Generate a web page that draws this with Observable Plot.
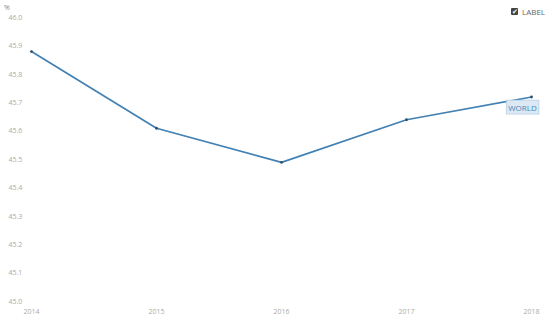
<!DOCTYPE html>
<html>
<head>
<meta charset="utf-8">
<script src="https://cdn.jsdelivr.net/npm/d3@7"></script>
<script src="https://cdn.jsdelivr.net/npm/@observablehq/plot@0.6"></script>
<style>
  html, body { margin: 0; padding: 0; background: #fff; }
  #wrap { position: relative; width: 554px; height: 325px; font-family: "Open Sans", sans-serif; }
  #chart svg { display: block; }
  #unit { position: absolute; left: 4px; top: 3px; font-size: 7px; line-height: 9px; color: #888; z-index: 2; }
  #legend { position: absolute; left: 511px; top: 7px; font-size: 8px; line-height: 9px; color: #666; display: flex; align-items: center; gap: 4px; z-index: 2; }
  #legend .box { width: 7px; height: 7px; background: #444; border-radius: 1px; color: #fff; font-size: 7px; line-height: 7px; text-align: center; }
</style>
</head>
<body>
<div id="wrap">
  <div id="chart"></div>
  <div id="unit">%</div>
  <div id="legend"><span class="box">✔</span><span>LABEL</span></div>
</div>
<script>
const years = [2014, 2015, 2016, 2017, 2018];
const values = [45.88, 45.61, 45.49, 45.64, 45.72];
const seriesName = "WORLD";
const yTicks = [45.0, 45.1, 45.2, 45.3, 45.4, 45.5, 45.6, 45.7, 45.8, 45.9, 46.0];

const data = years.map((y, i) => ({year: y, value: values[i]}));
const last = data[data.length - 1];

const plot = Plot.plot({
  width: 554,
  height: 325,
  marginLeft: 30,
  marginRight: 22,
  marginTop: 17,
  marginBottom: 24,
  style: {fontFamily: "Open Sans, sans-serif", fontSize: "7px", color: "#aaa", background: "#fff"},
  x: {type: "point", domain: years, padding: 0},
  y: {domain: [45.0, 46.0]},
  marks: [
    Plot.gridY(yTicks, {stroke: "#ececec", strokeOpacity: 1, x1: 30, x2: 550}),
    Plot.axisY(yTicks, {tickSize: 0, tickPadding: 22, textAnchor: "start", tickFormat: d3.format(".1f"), label: null, fill: "#aaa"}),
    Plot.axisX(years, {tickSize: 0, tickPadding: 8, tickFormat: d => String(d), label: null, fill: "#aaa"}),
    Plot.line(data, {x: "year", y: "value", stroke: "#4281b3", strokeWidth: 1.7}),
    Plot.dot(data, {x: "year", y: "value", r: 1.4, fill: "#2f4f66"}),
    Plot.text([last], {x: "year", y: "value", text: () => seriesName, dy: 11, dx: -9, fill: "#4a86b4", fontSize: 8})
  ]
});
document.getElementById("chart").appendChild(plot);

// box behind series label, sized from the rendered text
const lbl = Array.from(plot.querySelectorAll("text")).find(t => t.textContent === seriesName);
if (lbl) {
  const bb = lbl.getBBox();
  const rect = document.createElementNS("http://www.w3.org/2000/svg", "rect");
  rect.setAttribute("x", bb.x - 2);
  rect.setAttribute("y", bb.y - 1.5);
  rect.setAttribute("width", bb.width + 4);
  rect.setAttribute("height", bb.height + 3);
  rect.setAttribute("fill", "#dce9f4");
  rect.setAttribute("stroke", "#a9c6de");
  rect.setAttribute("stroke-width", "0.6");
  const tf = lbl.getAttribute("transform");
  if (tf) rect.setAttribute("transform", tf);
  lbl.parentNode.insertBefore(rect, lbl);
}
</script>
</body>
</html>
